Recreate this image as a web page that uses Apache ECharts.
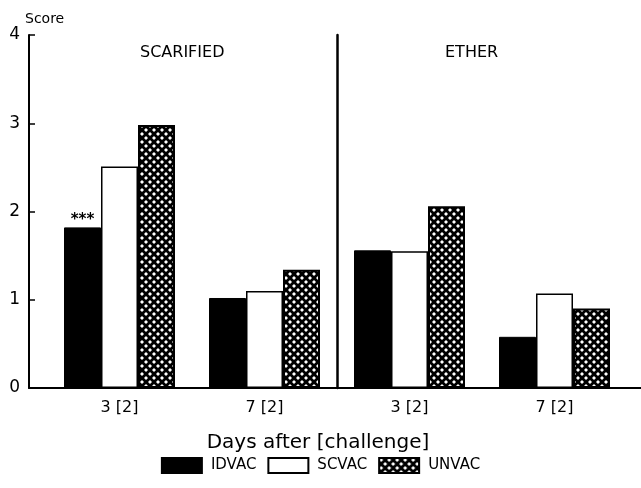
<!DOCTYPE html>
<html>
<head>
<meta charset="utf-8">
<script src="https://cdn.jsdelivr.net/npm/echarts@6/dist/echarts.min.js"></script>
<style>
  html, body { margin: 0; padding: 0; background: #fff; }
  #chart { width: 641px; height: 488px; }
</style>
</head>
<body>
<div id="chart"></div>
<script>
// Mean lesion score per vaccination group, by days after challenge,
// for the two challenge routes (left panel: scarified, right panel: ether)
const panelTitles = ['SCARIFIED', 'ETHER'];
const categories = ['3 [2]', '7 [2]'];
const idvacScarified = [1.82, 1.02];
const scvacScarified = [2.51, 1.10];
const unvacScarified = [2.98, 1.34];
const idvacEther = [1.56, 0.58];
const scvacEther = [1.55, 1.07];
const unvacEther = [2.06, 0.90];
const yTicks = [0, 1, 2, 3, 4];

const FONT = '"DejaVu Sans", "Liberation Sans", sans-serif';

// Black cross-hatch with white diamond holes
function hatch() {
  const c = document.createElement('canvas');
  c.width = 8; c.height = 8;
  const g = c.getContext('2d');
  g.fillStyle = '#000';
  g.fillRect(0, 0, 8, 8);
  g.fillStyle = '#fff';
  [[2, 2], [6, 6]].forEach(([x, y]) => {
    g.beginPath();
    g.moveTo(x, y - 2); g.lineTo(x + 2, y); g.lineTo(x, y + 2); g.lineTo(x - 2, y);
    g.closePath(); g.fill();
  });
  return c;
}
const hatchFill = { image: hatch(), repeat: 'repeat' };

const styles = {
  IDVAC: { color: '#000', borderColor: '#000', borderWidth: 1 },
  SCVAC: { color: '#fff', borderColor: '#000', borderWidth: 1.5 },
  UNVAC: { color: hatchFill, borderColor: '#000', borderWidth: 2 }
};

const chart = echarts.init(document.getElementById('chart'), null, { renderer: 'canvas' });

const gridTop = 35, gridBottom = 100;
const panelLeft = 47, panelWidth = 290;

function panelAxes(idx) {
  return {
    x: {
      gridIndex: idx, type: 'category', data: categories,
      axisLine: { show: false },
      axisTick: { show: false },
      axisLabel: { fontFamily: FONT, fontSize: 16, color: '#000', margin: 12 },
      splitLine: { show: false }
    },
    y: {
      gridIndex: idx, type: 'value', min: yTicks[0], max: yTicks[yTicks.length - 1], interval: 1,
      // the ether panel's own axis line is the divider between the panels
      axisLine: { show: idx === 2, lineStyle: { color: '#000', width: 2.5 } },
      axisTick: { show: false }, axisLabel: { show: false }, splitLine: { show: false }
    }
  };
}
const p1 = panelAxes(1), p2 = panelAxes(2);

function bar(name, data, axisIdx, starFirst) {
  return {
    name, type: 'bar', xAxisIndex: axisIdx, yAxisIndex: axisIdx,
    barWidth: 37, barGap: '0%',
    itemStyle: styles[name],
    data: data.map((v, i) => (starFirst && i === 0)
      ? { value: v, label: { show: true, position: 'top', distance: 0, formatter: '***',
          fontFamily: FONT, fontSize: 15, fontWeight: 'bold', color: '#000' } }
      : v)
  };
}

chart.setOption({
  animation: false,
  backgroundColor: '#fff',
  textStyle: { fontFamily: FONT, color: '#000' },
  grid: [
    // frame: y axis and baseline across the whole width
    { left: 29, right: 0, top: gridTop, bottom: gridBottom },
    { left: panelLeft, width: panelWidth, top: gridTop, bottom: gridBottom },
    { left: panelLeft + panelWidth, width: panelWidth, top: gridTop, bottom: gridBottom }
  ],
  graphic: [
    { type: 'text', left: 140, top: 45, style: { text: panelTitles[0], font: '16px ' + FONT, fill: '#000' } },
    { type: 'text', left: 445, top: 45, style: { text: panelTitles[1], font: '16px ' + FONT, fill: '#000' } }
  ],
  legend: {
    data: ['IDVAC', 'SCVAC', 'UNVAC'],
    left: 'center',
    bottom: 9,
    icon: 'rect',
    itemWidth: 40,
    itemHeight: 15,
    itemGap: 11,
    textStyle: { fontFamily: FONT, fontSize: 15, color: '#000', padding: [0, 0, 0, 4] }
  },
  xAxis: [
    {
      gridIndex: 0, type: 'value', min: 0, max: 1,
      axisLine: { show: true, onZero: false, lineStyle: { color: '#000', width: 2 } },
      axisTick: { show: false }, axisLabel: { show: false }, splitLine: { show: false },
      name: 'Days after [challenge]',
      nameLocation: 'middle',
      nameGap: 45,
      nameTextStyle: { fontFamily: FONT, fontSize: 20, color: '#000', padding: [0, 34, 0, 0] }
    },
    p1.x, p2.x
  ],
  yAxis: [
    {
      gridIndex: 0, type: 'value', min: yTicks[0], max: yTicks[yTicks.length - 1], interval: 1,
      axisLine: { show: true, lineStyle: { color: '#000', width: 2 } },
      axisTick: { show: true, inside: true, length: 6, lineStyle: { color: '#000', width: 1.5 } },
      axisLabel: { fontFamily: FONT, fontSize: 17, color: '#000', margin: 9 },
      splitLine: { show: false },
      name: 'Score',
      nameLocation: 'end',
      nameGap: 9,
      nameTextStyle: { fontFamily: FONT, fontSize: 14, color: '#000', align: 'left', padding: [0, 0, 0, -4] }
    },
    p1.y, p2.y
  ],
  series: [
    bar('IDVAC', idvacScarified, 1, true),
    bar('SCVAC', scvacScarified, 1),
    bar('UNVAC', unvacScarified, 1),
    bar('IDVAC', idvacEther, 2),
    bar('SCVAC', scvacEther, 2),
    bar('UNVAC', unvacEther, 2)
  ]
});
</script>
</body>
</html>
